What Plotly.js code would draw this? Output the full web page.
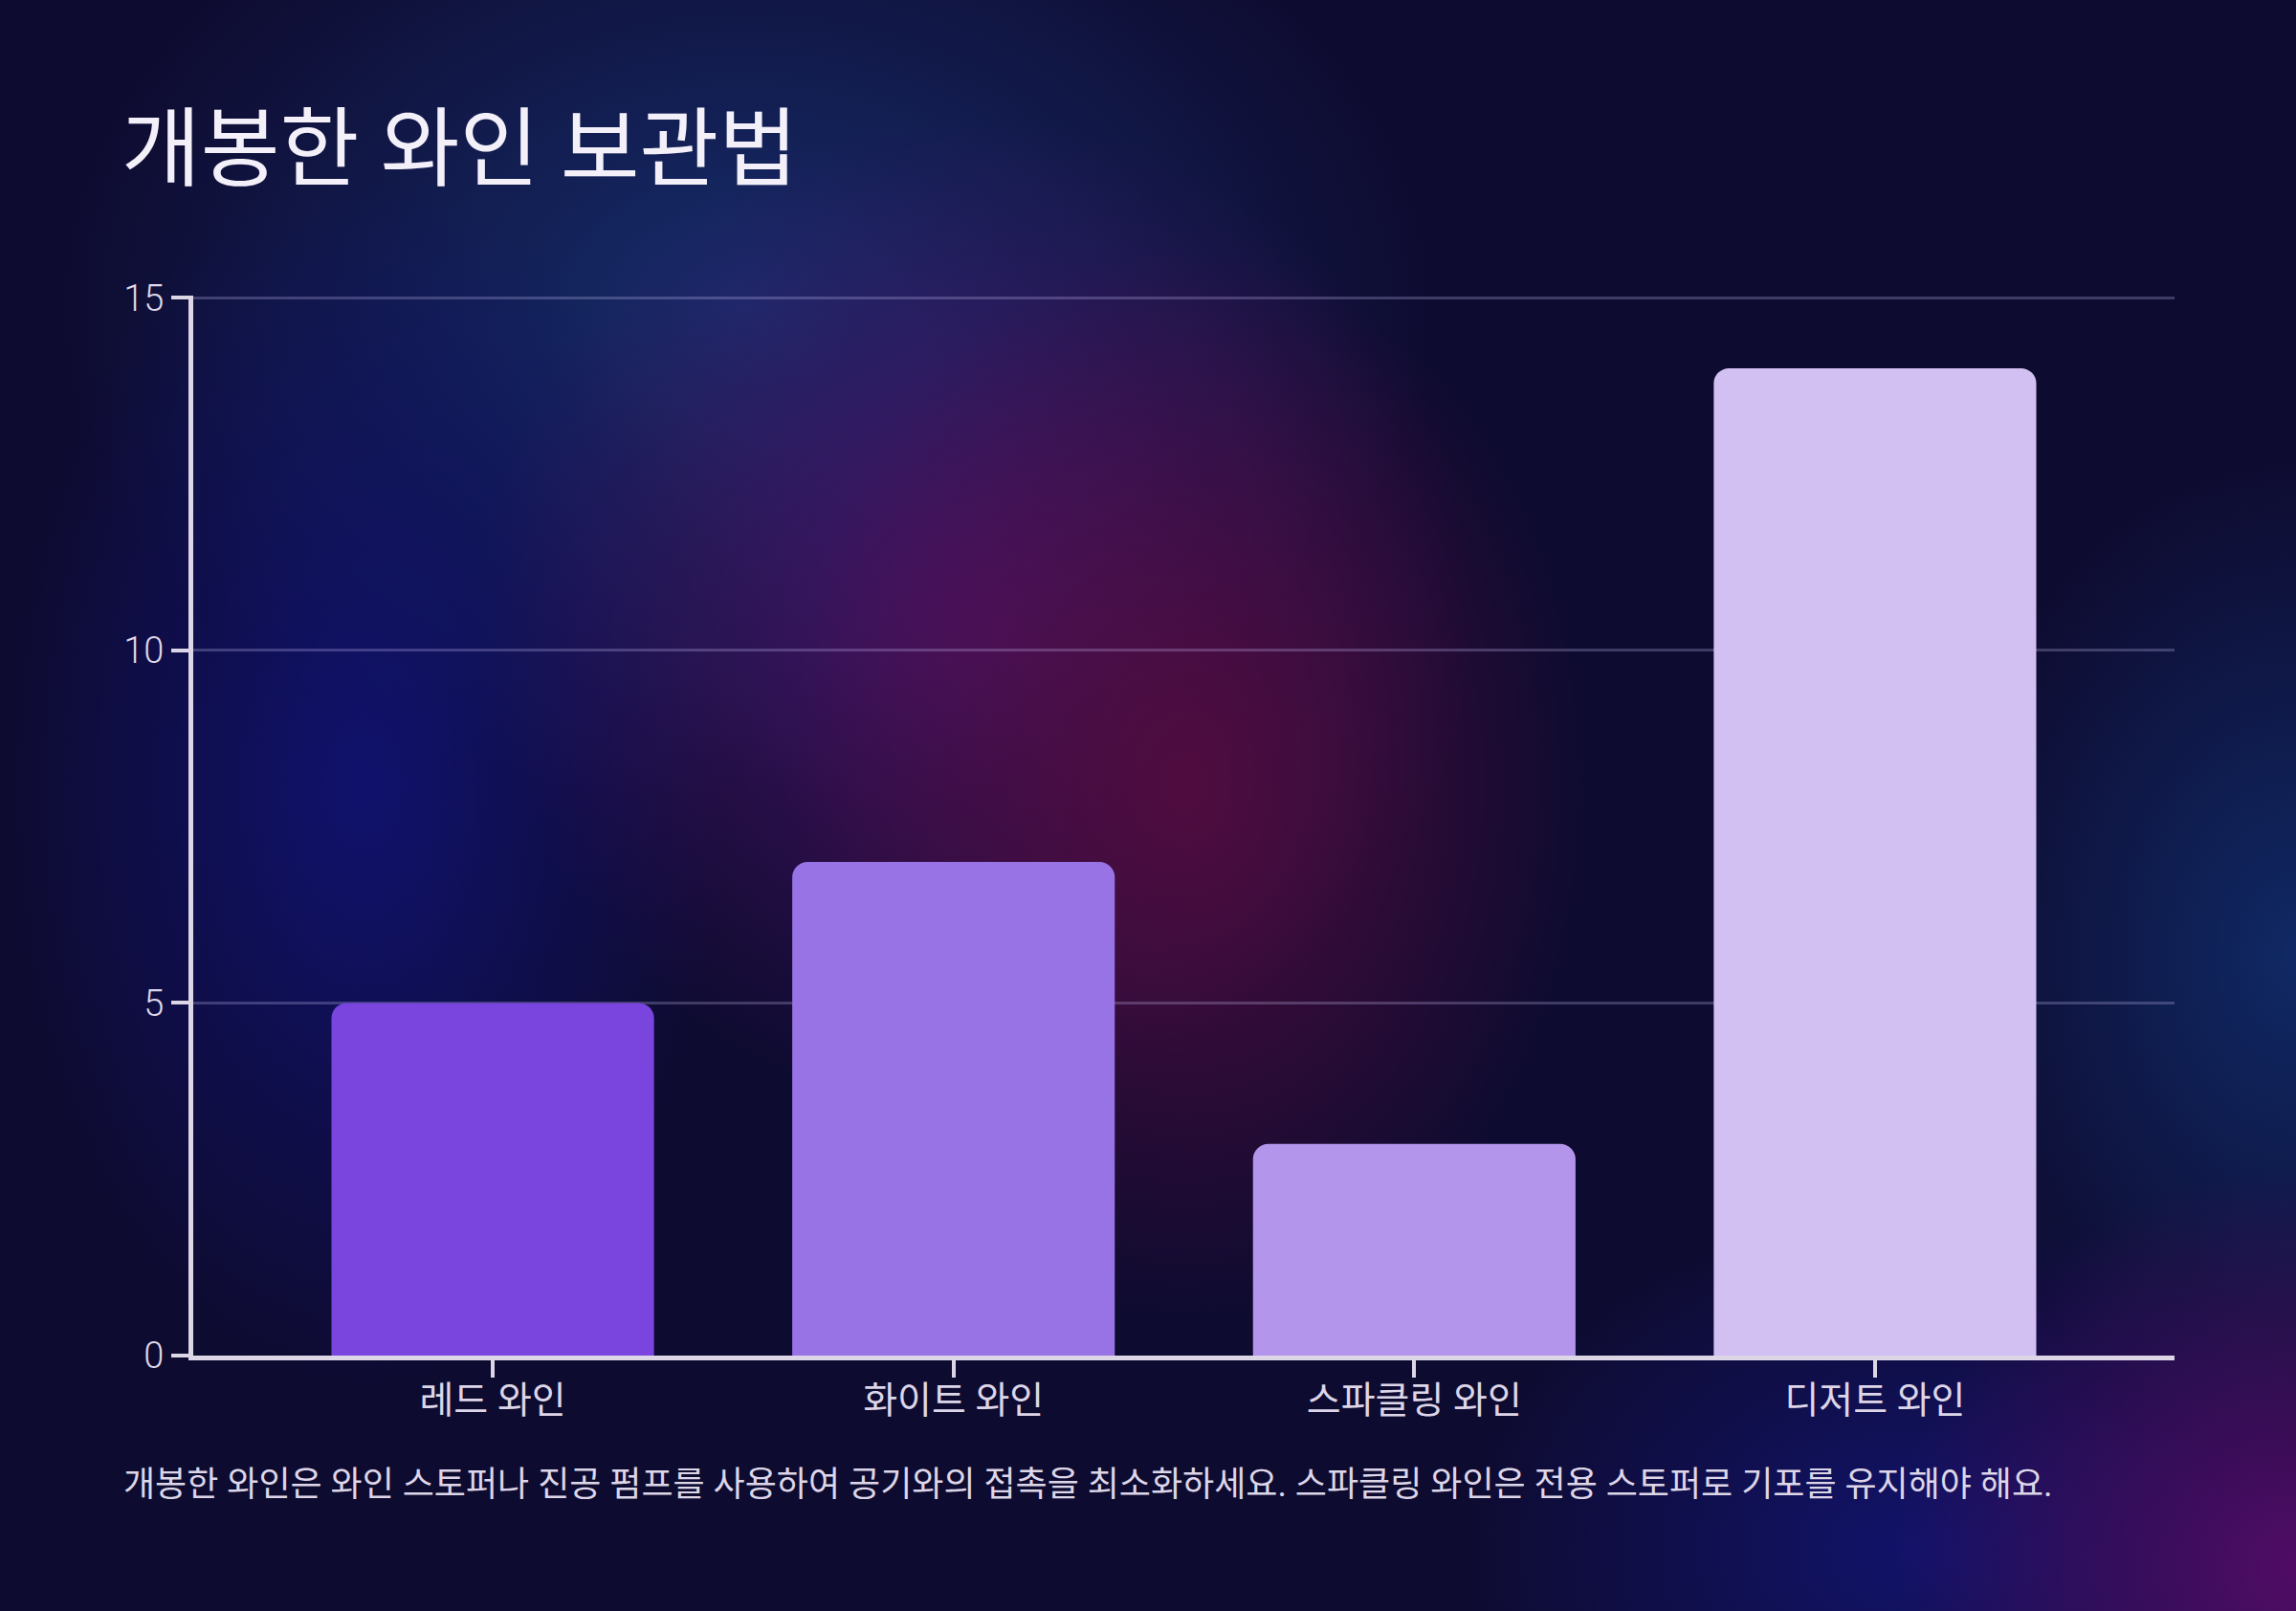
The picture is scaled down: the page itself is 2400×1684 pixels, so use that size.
<!DOCTYPE html>
<html>
<head>
<meta charset="utf-8">
<script src="https://cdn.plot.ly/plotly-3.0.1.min.js"></script>
<style>
  html, body { margin: 0; padding: 0; background: #0e0b30; }
  #chart {
    width: 2400px;
    height: 1684px;
    background-color: #0e0b30;
    background-image:
      radial-gradient(ellipse 420px 560px at 1240px 820px, rgba(82, 12, 62, 0.95), rgba(82, 12, 62, 0) 100%),
      radial-gradient(ellipse 520px 520px at 1020px 640px, rgba(76, 18, 104, 0.9), rgba(76, 18, 104, 0) 100%),
      radial-gradient(ellipse 380px 640px at 380px 820px, rgba(16, 18, 112, 0.95), rgba(16, 18, 112, 0) 100%),
      radial-gradient(ellipse 720px 520px at 780px 320px, rgba(22, 46, 110, 0.95), rgba(22, 46, 110, 0) 100%),
      radial-gradient(ellipse 420px 420px at 2400px 1640px, rgba(84, 12, 104, 0.95), rgba(84, 12, 104, 0) 100%),
      radial-gradient(ellipse 480px 360px at 2000px 1620px, rgba(18, 20, 112, 0.9), rgba(18, 20, 112, 0) 100%),
      radial-gradient(ellipse 380px 520px at 2400px 1000px, rgba(16, 44, 106, 0.9), rgba(16, 44, 106, 0) 100%);
  }
</style>
</head>
<body>
<div id="chart"></div>
<script>
// Chart data
const categories = ['레드 와인', '화이트 와인', '스파클링 와인', '디저트 와인'];
const values = [5, 7, 3, 14];
const barColors = ['#7a45de', '#9773e6', '#b396ec', '#d2c0f3'];
const yTicks = [0, 5, 10, 15];

const chartTitle = '개봉한 와인 보관법';
const footNote = '개봉한 와인은 와인 스토퍼나 진공 펌프를 사용하여 공기와의 접촉을 최소화하세요. 스파클링 와인은 전용 스토퍼로 기포를 유지해야 해요.';

const baseFont = "Roboto, 'Noto Sans CJK KR', sans-serif";

// plot box in pixels
const plotLeft = 202;
const plotRight = 2273;
const plotTop = 309;
const plotBottom = 1417;

const trace = {
  x: categories,
  y: values,
  type: 'bar',
  marker: {
    color: barColors,
    cornerradius: 16,
    line: { width: 0 },
  },
  hoverinfo: 'none',
};

const layout = {
  width: 2400,
  height: 1684,
  paper_bgcolor: 'rgba(0,0,0,0)',
  plot_bgcolor: 'rgba(0,0,0,0)',
  margin: { l: plotLeft, r: 2400 - plotRight, t: plotTop, b: 1684 - plotBottom },
  bargap: 0.3,
  showlegend: false,
  font: { family: baseFont, color: '#ddd6e8' },
  title: {
    text: chartTitle,
    font: { family: baseFont, size: 90, color: '#f4f0fa' },
    x: 127 / 2400,
    xanchor: 'left',
    xref: 'container',
    y: 1 - 155 / 1684,
    yanchor: 'middle',
    yref: 'container',
  },
  xaxis: {
    range: [-0.65, 3.65],
    showline: true,
    linecolor: '#dcd6e6',
    linewidth: 5,
    ticks: 'outside',
    ticklen: 18,
    tickwidth: 4,
    tickcolor: '#dcd6e6',
    ticklabelstandoff: -10,
    tickfont: { family: baseFont, size: 39, color: '#ddd6e8' },
    showgrid: false,
    zeroline: false,
    fixedrange: true,
  },
  yaxis: {
    range: [0, 15.03],
    tickvals: yTicks,
    showline: true,
    linecolor: '#dcd6e6',
    linewidth: 5,
    ticks: 'outside',
    ticklen: 18,
    tickwidth: 4,
    tickcolor: '#dcd6e6',
    tickfont: { family: baseFont, size: 38, color: '#ddd6e8', weight: 300 },
    showgrid: true,
    gridcolor: 'rgba(210,205,255,0.25)',
    gridwidth: 3,
    zeroline: false,
    fixedrange: true,
  },
  annotations: [
    {
      text: footNote,
      xref: 'paper',
      yref: 'paper',
      x: (127 - plotLeft) / (plotRight - plotLeft),
      xanchor: 'left',
      y: (plotBottom - 1552) / (plotBottom - plotTop),
      yanchor: 'middle',
      showarrow: false,
      font: { family: baseFont, size: 36, color: '#ddd6e8' },
    },
  ],
};

Plotly.newPlot('chart', [trace], layout, { staticPlot: true, displayModeBar: false });
</script>
</body>
</html>
